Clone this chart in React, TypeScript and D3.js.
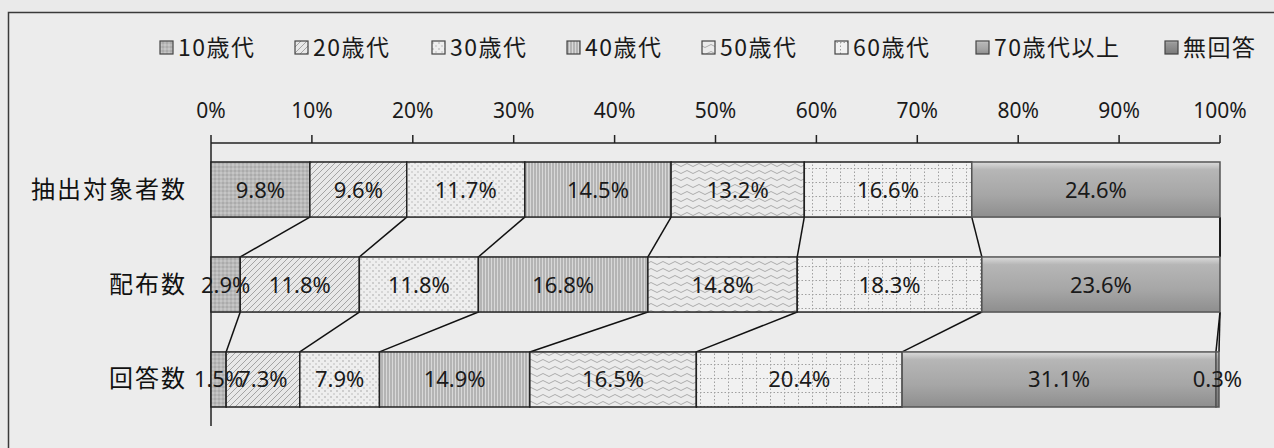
import React from "react";
import * as d3 from "d3";

const categories = ["抽出対象者数", "配布数", "回答数"];
const seriesNames = ["10歳代", "20歳代", "30歳代", "40歳代", "50歳代", "60歳代", "70歳代以上", "無回答"];
const row1 = [9.8, 9.6, 11.7, 14.5, 13.2, 16.6, 24.6, 0];
const row2 = [2.9, 11.8, 11.8, 16.8, 14.8, 18.3, 23.6, 0];
const row3 = [1.5, 7.3, 7.9, 14.9, 16.5, 20.4, 31.1, 0.3];
const rows = [row1, row2, row3];
const tickValues = [0, 10, 20, 30, 40, 50, 60, 70, 80, 90, 100];
const legendX = [160, 295, 432, 567, 702, 835, 976, 1165];

const W = 1274;
const H = 448;
const fills = ["url(#p10)", "url(#p20)", "url(#p30)", "url(#p40)", "url(#p50)", "url(#p60)", "url(#g70)", "url(#gNA)"];
const jp = "'Noto Sans CJK JP', 'Noto Sans', sans-serif";
const num = "'Noto Sans', 'Open Sans', sans-serif";

export default function App() {
  const x = d3.scaleLinear().domain([0, 100]).range([211, 1220]);
  const y = d3.scaleBand<string>().domain(categories).range([143, 426]).paddingInner(0.42).paddingOuter(0.2);
  const bw = y.bandwidth();

  const stacks = rows.map((r) => {
    let c = 0;
    return r.map((v) => {
      const s = c;
      c += v;
      return [s, c];
    });
  });

  return (
    <svg width={W} height={H} style={{ position: "absolute", left: 0, top: 0 }} xmlns="http://www.w3.org/2000/svg">
      <defs>
        <pattern id="p10" patternUnits="userSpaceOnUse" width="4" height="4">
          <rect width="4" height="4" fill="#b9b9b9" />
          <circle cx="1" cy="1" r="0.7" fill="#dedede" />
          <circle cx="3" cy="3" r="0.7" fill="#929292" />
        </pattern>
        <pattern id="p20" patternUnits="userSpaceOnUse" width="6" height="6">
          <rect width="6" height="6" fill="#e8e8e8" />
          <path d="M-1,1 l2,-2 M0,6 l6,-6 M5,7 l2,-2" stroke="#a4a4a4" strokeWidth="1" />
        </pattern>
        <pattern id="p30" patternUnits="userSpaceOnUse" width="6" height="6">
          <rect width="6" height="6" fill="#eeeeee" />
          <circle cx="1" cy="1" r="0.8" fill="#a4a4a4" />
          <circle cx="4" cy="4" r="0.8" fill="#b8b8b8" />
        </pattern>
        <pattern id="p40" patternUnits="userSpaceOnUse" width="3" height="3">
          <rect width="3" height="3" fill="#d8d8d8" />
          <line x1="1" y1="0" x2="1" y2="3" stroke="#909090" strokeWidth="1" />
        </pattern>
        <pattern id="p50" patternUnits="userSpaceOnUse" width="12" height="7">
          <rect width="12" height="7" fill="#ebebeb" />
          <path d="M0,4 Q3,1 6,4 T12,4" fill="none" stroke="#ababab" strokeWidth="1" />
        </pattern>
        <pattern id="p60" patternUnits="userSpaceOnUse" width="14" height="14">
          <rect width="14" height="14" fill="#f1f1f1" />
          <path d="M0,0.5 H14 M0.5,0 V14" stroke="#a0a0a0" strokeWidth="1" strokeDasharray="1.5 2" />
        </pattern>
        <linearGradient id="g70" x1="0" y1="0" x2="0" y2="1">
          <stop offset="0" stopColor="#dcdcdc" />
          <stop offset="0.14" stopColor="#b6b6b6" />
          <stop offset="0.6" stopColor="#a6a6a6" />
          <stop offset="1" stopColor="#8e8e8e" />
        </linearGradient>
        <linearGradient id="gNA" x1="0" y1="0" x2="0" y2="1">
          <stop offset="0" stopColor="#c8c8c8" />
          <stop offset="0.14" stopColor="#9a9a9a" />
          <stop offset="1" stopColor="#7a7a7a" />
        </linearGradient>
      </defs>

      <rect x={0} y={0} width={W} height={H} fill="#eaeaea" />
      <rect x={8.5} y={12.5} width={W + 20} height={H + 20} fill="#ececec" stroke="#3a3a3a" strokeWidth={1.5} />

      {/* legend */}
      {seriesNames.map((n, i) => (
        <g key={n}>
          <rect x={legendX[i]} y={41} width={13} height={13} fill={fills[i]} stroke="#444" strokeWidth={1.2} />
          <text x={legendX[i] + 18} y={56} fontFamily={jp} fontSize={23} letterSpacing={1.5} fill="#1a1a1a">
            {n}
          </text>
        </g>
      ))}

      {/* axis */}
      <line x1={x(0)} x2={x(100)} y1={143} y2={143} stroke="#222" strokeWidth={1.5} />
      <line x1={x(0)} x2={x(0)} y1={143} y2={426} stroke="#222" strokeWidth={1.5} />
      {tickValues.map((t) => (
        <g key={t}>
          <line x1={x(t)} x2={x(t)} y1={135} y2={143} stroke="#222" strokeWidth={1.5} />
          <text x={x(t)} y={118} textAnchor="middle" fontFamily={num} fontSize={21} fill="#1a1a1a">
            {t}%
          </text>
        </g>
      ))}

      {/* series lines */}
      {rows.slice(0, -1).map((r, ri) =>
        r.map((_, si) => (
          <line
            key={`sl${ri}-${si}`}
            x1={x(stacks[ri][si][1])}
            y1={(y(categories[ri]) as number) + bw}
            x2={x(stacks[ri + 1][si][1])}
            y2={y(categories[ri + 1]) as number}
            stroke="#111"
            strokeWidth={1.5}
          />
        ))
      )}

      {/* bars */}
      {rows.map((r, ri) => (
        <g key={categories[ri]}>
          {r.map((v, si) =>
            v > 0 ? (
              <rect
                key={si}
                x={x(stacks[ri][si][0])}
                y={y(categories[ri]) as number}
                width={x(stacks[ri][si][1]) - x(stacks[ri][si][0])}
                height={bw}
                fill={fills[si]}
                stroke={si >= 6 ? "#555" : "#222"}
                strokeWidth={1.5}
              />
            ) : null
          )}
          <text
            x={x(0) - 24}
            y={(y(categories[ri]) as number) + bw / 2 + 8}
            textAnchor="end"
            fontFamily={jp}
            fontSize={24}
            letterSpacing={2}
            fill="#111"
          >
            {categories[ri]}
          </text>
          {r.map((v, si) =>
            v > 0 ? (
              <text
                key={`l${si}`}
                x={x((stacks[ri][si][0] + stacks[ri][si][1]) / 2)}
                y={(y(categories[ri]) as number) + bw / 2 + 8}
                textAnchor="middle"
                fontFamily={num}
                fontSize={22}
                fill="#1a1a1a"
              >
                {v.toFixed(1)}%
              </text>
            ) : null
          )}
        </g>
      ))}
    </svg>
  );
}
